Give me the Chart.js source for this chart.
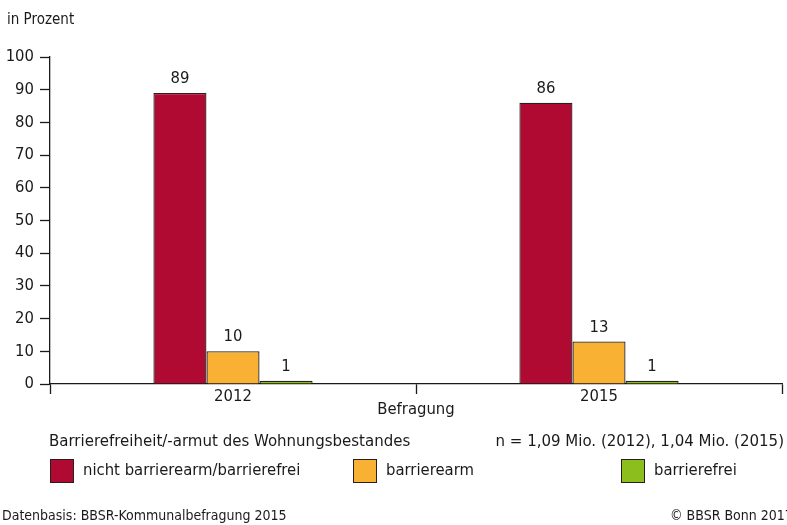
<!DOCTYPE html>
<html>
<head>
<meta charset="utf-8">
<script src="https://cdn.jsdelivr.net/npm/chart.js@4/dist/chart.umd.min.js"></script>
<style>
  html, body { margin: 0; padding: 0; background: #fff; }
  #wrap { position: relative; width: 787px; height: 525px; overflow: hidden;
    font-family: "DejaVu Sans Condensed", sans-serif; color: #1a1a1a; }
  #chart { position: absolute; left: 0; top: 0; }
  .t { position: absolute; white-space: nowrap; line-height: 1; }
  .sw { position: absolute; width: 24px; height: 24px; box-sizing: border-box; border: 1.5px solid #2a1f1f; }
</style>
</head>
<body>
<div id="wrap">
  <canvas id="chart" width="787" height="525"></canvas>
  <div class="t" style="left:7px; top:12px; font-size:15px;">in Prozent</div>
  <div class="t" style="left:416px; top:401px; font-size:16.5px; transform:translateX(-50%);">Befragung</div>
  <div class="t" style="left:49px; top:432px; font-size:16.7px;">Barrierefreiheit/-armut des Wohnungsbestandes</div>
  <div class="t" style="right:3px; top:432px; font-size:16.7px;">n = 1,09 Mio. (2012), 1,04 Mio. (2015)</div>
  <div id="legend"></div>
  <div class="t" style="left:2px; top:508px; font-size:14px;">Datenbasis: BBSR-Kommunalbefragung 2015</div>
  <div class="t" style="left:670px; top:508px; font-size:14px;">© BBSR Bonn 2017</div>
</div>
<script>
const years = ['2012', '2015'];
const seriesNames = ['nicht barrierearm/barrierefrei', 'barrierearm', 'barrierefrei'];
const nichtBarrierearm = [89, 86];
const barrierearm = [10, 13];
const barrierefrei = [1, 1];
const yTicks = [0, 10, 20, 30, 40, 50, 60, 70, 80, 90, 100];

const colors = ['#b00a32', '#f8b133', '#8cbf1e'];
const legendX = [50, 353, 621];
const FONT = '"DejaVu Sans Condensed", sans-serif';

// legend in HTML, placed like the original
const legend = document.getElementById('legend');
seriesNames.forEach((name, i) => {
  const sw = document.createElement('div');
  sw.className = 'sw';
  sw.style.left = legendX[i] + 'px';
  sw.style.top = '459px';
  sw.style.background = colors[i];
  legend.appendChild(sw);
  const lb = document.createElement('div');
  lb.className = 't';
  lb.style.left = (legendX[i] + 33) + 'px';
  lb.style.top = '462px';
  lb.style.fontSize = '16.5px';
  lb.textContent = name;
  legend.appendChild(lb);
});

const valueLabels = {
  id: 'valueLabels',
  afterDatasetsDraw(chart) {
    const ctx = chart.ctx;
    ctx.save();
    ctx.font = '16.5px ' + FONT;
    ctx.fillStyle = '#1a1a1a';
    ctx.textAlign = 'center';
    ctx.textBaseline = 'bottom';
    chart.data.datasets.forEach((ds, di) => {
      chart.getDatasetMeta(di).data.forEach((bar, i) => {
        ctx.fillText(ds.data[i], bar.x, bar.y - 6);
      });
    });
    ctx.restore();
  }
};

const mk = (i, data) => ({
  label: seriesNames[i],
  data: data,
  backgroundColor: colors[i],
  borderColor: '#2a1f1f',
  borderWidth: 1.3,
  barPercentage: 1,
  categoryPercentage: 0.435
});

new Chart(document.getElementById('chart'), {
  type: 'bar',
  data: {
    labels: years,
    datasets: [mk(0, nichtBarrierearm), mk(1, barrierearm), mk(2, barrierefrei)]
  },
  options: {
    responsive: false,
    animation: false,
    layout: { padding: { top: 57, right: 5, left: 0, bottom: 0 } },
    plugins: { legend: { display: false }, tooltip: { enabled: false } },
    scales: {
      x: {
        grid: { offset: true, drawOnChartArea: false, tickLength: 10, color: '#1a1a1a', tickWidth: 1.3 },
        border: { color: '#1a1a1a', width: 1.3 },
        ticks: { color: '#1a1a1a', font: { family: FONT, size: 16.5 }, padding: -7 },
        afterFit(s) { s.height = 525 - 384; }
      },
      y: {
        min: 0, max: 100,
        afterBuildTicks(s) { s.ticks = yTicks.map(v => ({ value: v })); },
        grid: { drawOnChartArea: false, tickLength: 10, color: '#1a1a1a', tickWidth: 1.3 },
        border: { color: '#1a1a1a', width: 1.3 },
        ticks: { color: '#1a1a1a', font: { family: FONT, size: 16.5 }, padding: 6 },
        afterFit(s) { s.width = 50; }
      }
    }
  },
  plugins: [valueLabels]
});
</script>
</body>
</html>
